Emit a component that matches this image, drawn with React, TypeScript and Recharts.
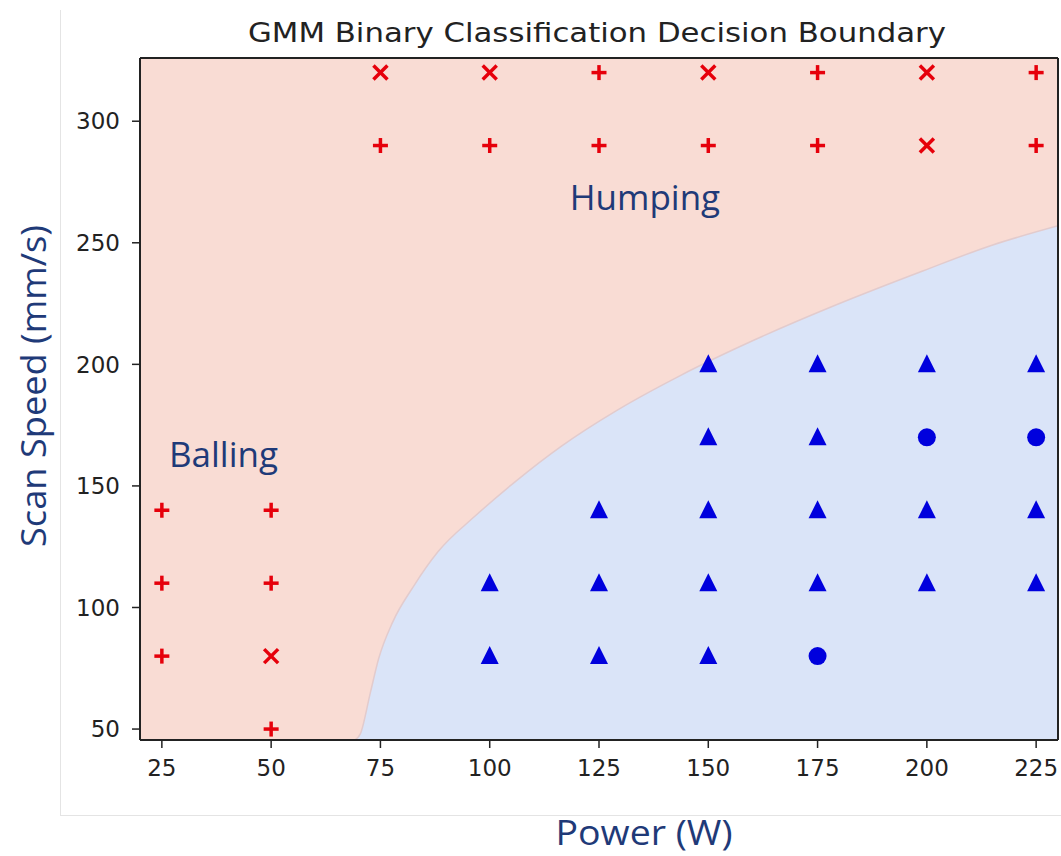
import {
  ComposedChart,
  Area,
  Scatter,
  XAxis,
  YAxis,
  CartesianGrid,
  ReferenceDot,
  ReferenceLine,
} from 'recharts';

const powerTicks = [25, 50, 75, 100, 125, 150, 175, 200, 225];
const speedTicks = [50, 100, 150, 200, 250, 300];

// red class, "+" markers
const redPlus = [
  { power: 25, speed: 140 },
  { power: 25, speed: 110 },
  { power: 25, speed: 80 },
  { power: 50, speed: 140 },
  { power: 50, speed: 110 },
  { power: 50, speed: 50 },
  { power: 75, speed: 290 },
  { power: 100, speed: 290 },
  { power: 125, speed: 320 },
  { power: 125, speed: 290 },
  { power: 150, speed: 290 },
  { power: 175, speed: 320 },
  { power: 175, speed: 290 },
  { power: 225, speed: 320 },
  { power: 225, speed: 290 },
];

// red class, "x" markers
const redCross = [
  { power: 50, speed: 80 },
  { power: 75, speed: 320 },
  { power: 100, speed: 320 },
  { power: 150, speed: 320 },
  { power: 200, speed: 320 },
  { power: 200, speed: 290 },
];

// blue class, triangles
const blueTriangle = [
  { power: 100, speed: 110 },
  { power: 100, speed: 80 },
  { power: 125, speed: 140 },
  { power: 125, speed: 110 },
  { power: 125, speed: 80 },
  { power: 150, speed: 200 },
  { power: 150, speed: 170 },
  { power: 150, speed: 140 },
  { power: 150, speed: 110 },
  { power: 150, speed: 80 },
  { power: 175, speed: 200 },
  { power: 175, speed: 170 },
  { power: 175, speed: 140 },
  { power: 175, speed: 110 },
  { power: 200, speed: 200 },
  { power: 200, speed: 140 },
  { power: 200, speed: 110 },
  { power: 225, speed: 200 },
  { power: 225, speed: 140 },
  { power: 225, speed: 110 },
];

// blue class, circles
const blueCircle = [
  { power: 175, speed: 80 },
  { power: 200, speed: 170 },
  { power: 225, speed: 170 },
];

// decision boundary (blue region lies below it)
const boundary = [
  { power: 69.2, speed: 45.5 },
  { power: 70.4, speed: 48 },
  { power: 72.7, speed: 65 },
  { power: 74.6, speed: 79 },
  { power: 77.8, speed: 94 },
  { power: 82.5, speed: 108.5 },
  { power: 88.2, speed: 123 },
  { power: 96.6, speed: 137.5 },
  { power: 106, speed: 152 },
  { power: 116.5, speed: 166.5 },
  { power: 129, speed: 181 },
  { power: 143.7, speed: 195.5 },
  { power: 160.5, speed: 210 },
  { power: 179.3, speed: 224.5 },
  { power: 199.2, speed: 238.5 },
  { power: 214.9, speed: 249 },
  { power: 230, speed: 257 },
];

const RED = '#e6000b';
const BLUE = '#0000dd';
const PINK_BG = '#f9dcd4';
const BLUE_BG = '#dae4f8';
const NAVY = '#1f3a78';
const INK = '#222';

const PlusShape = (p: any) => (
  <g stroke={RED} strokeWidth={3.5}>
    <line x1={p.cx - 7.5} y1={p.cy} x2={p.cx + 7.5} y2={p.cy} />
    <line x1={p.cx} y1={p.cy - 7.5} x2={p.cx} y2={p.cy + 7.5} />
  </g>
);

const CrossShape = (p: any) => (
  <g stroke={RED} strokeWidth={3.5}>
    <line x1={p.cx - 7} y1={p.cy - 7} x2={p.cx + 7} y2={p.cy + 7} />
    <line x1={p.cx - 7} y1={p.cy + 7} x2={p.cx + 7} y2={p.cy - 7} />
  </g>
);

const TriangleShape = (p: any) => (
  <path
    d={`M${p.cx},${p.cy - 10} L${p.cx + 9},${p.cy + 8} L${p.cx - 9},${p.cy + 8} Z`}
    fill={BLUE}
  />
);

const CircleShape = (p: any) => <circle cx={p.cx} cy={p.cy} r={9} fill={BLUE} />;

const tickStyle = { fontSize: 23, fill: INK, fontFamily: 'DejaVu Sans' };

export default function App() {
  return (
    <div
      style={{
        position: 'absolute',
        left: 0,
        top: 0,
        width: 1061,
        height: 856,
        background: '#fff',
      }}
    >
      <svg
        width={1061}
        height={856}
        style={{ position: 'absolute', left: 0, top: 0 }}
      >
        {/* faint border of the pasted figure */}
        <line x1={60.5} y1={10} x2={60.5} y2={815} stroke="#e4e4e4" />
        <line x1={60} y1={815.5} x2={1061} y2={815.5} stroke="#e4e4e4" />
        <text
          x={597}
          y={42}
          textAnchor="middle"
          fontSize={26}
          fontFamily="DejaVu Sans"
          fill={INK}
          textLength={698}
          lengthAdjust="spacingAndGlyphs"
        >
          GMM Binary Classification Decision Boundary
        </text>
        <text
          x={644}
          y={845}
          textAnchor="middle"
          fontSize={34}
          fontFamily="Open Sans"
          fill={NAVY}
          textLength={177}
          lengthAdjust="spacingAndGlyphs"
        >
          Power (W)
        </text>
        <text
          x={46}
          y={386}
          textAnchor="middle"
          fontSize={35}
          fontFamily="Open Sans"
          fill={NAVY}
          transform="rotate(-90, 46, 386)"
          textLength={322}
          lengthAdjust="spacingAndGlyphs"
        >
          Scan Speed (mm/s)
        </text>
      </svg>
      <div style={{ position: 'absolute', left: 0, top: 0 }}>
        <ComposedChart
          width={1061}
          height={856}
          margin={{ top: 58, right: 3, left: 60, bottom: 76 }}
        >
          <CartesianGrid horizontal={false} vertical={false} fill={PINK_BG} fillOpacity={1} />
          <XAxis
            type="number"
            dataKey="power"
            domain={[20, 230]}
            ticks={powerTicks}
            allowDataOverflow
            height={40}
            tickSize={8}
            tickMargin={12}
            tick={tickStyle}
            axisLine={{ stroke: INK, strokeWidth: 2 }}
            tickLine={{ stroke: INK, strokeWidth: 1.5 }}
          />
          <YAxis
            type="number"
            dataKey="speed"
            domain={[45.5, 326]}
            ticks={speedTicks}
            allowDataOverflow
            width={80}
            tickSize={8}
            tickMargin={12}
            tick={tickStyle}
            axisLine={{ stroke: INK, strokeWidth: 2 }}
            tickLine={{ stroke: INK, strokeWidth: 1.5 }}
          />
          <Area
            data={boundary}
            dataKey="speed"
            type="monotone"
            fill={BLUE_BG}
            fillOpacity={1}
            stroke="#e2cbcd"
            strokeWidth={1.5}
            dot={false}
            activeDot={false}
            isAnimationActive={false}
          />
          {/* top and right spines */}
          <ReferenceLine y={326} stroke={INK} strokeWidth={2} ifOverflow="visible" />
          <ReferenceLine x={230} stroke={INK} strokeWidth={2} ifOverflow="visible" />
          <ReferenceDot
            x={135.5}
            y={268.7}
            r={0}
            fill="none"
            stroke="none"
            label={{
              value: 'Humping',
              position: 'center',
              fill: NAVY,
              fontSize: 35,
              fontFamily: 'Open Sans',
            }}
          />
          <ReferenceDot
            x={39.1}
            y={162.7}
            r={0}
            fill="none"
            stroke="none"
            label={{
              value: 'Balling',
              position: 'center',
              fill: NAVY,
              fontSize: 35,
              fontFamily: 'Open Sans',
            }}
          />
          <Scatter data={redPlus} dataKey="speed" shape={PlusShape} isAnimationActive={false} />
          <Scatter data={redCross} dataKey="speed" shape={CrossShape} isAnimationActive={false} />
          <Scatter data={blueTriangle} dataKey="speed" shape={TriangleShape} isAnimationActive={false} />
          <Scatter data={blueCircle} dataKey="speed" shape={CircleShape} isAnimationActive={false} />
        </ComposedChart>
      </div>
    </div>
  );
}
